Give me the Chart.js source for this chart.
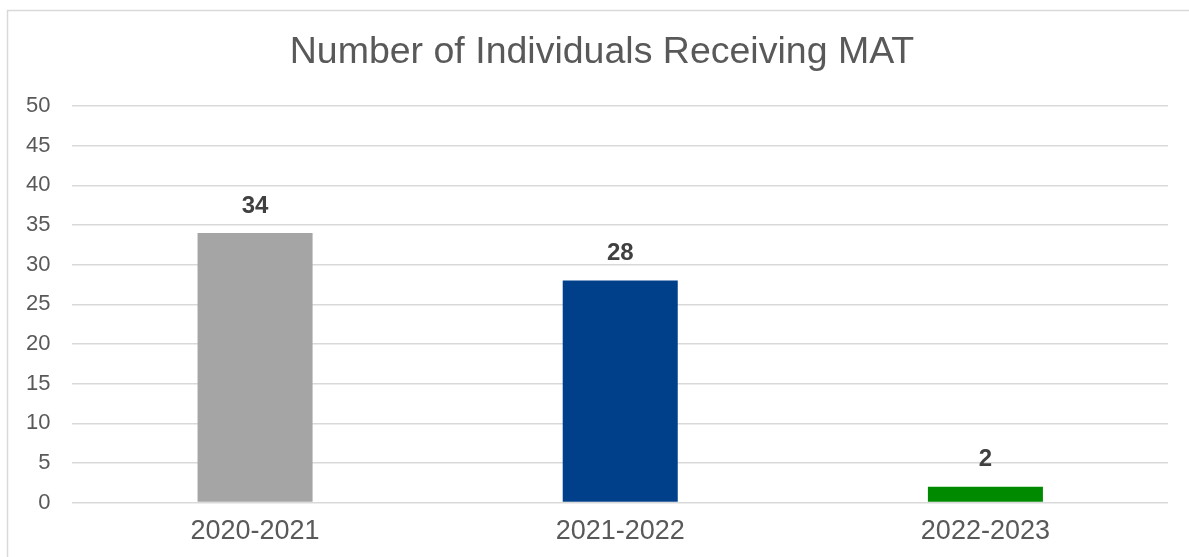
<!DOCTYPE html>
<html>
<head>
<meta charset="utf-8">
<title>Number of Individuals Receiving MAT</title>
<script src="https://cdn.jsdelivr.net/npm/chart.js@4/dist/chart.umd.min.js"></script>
<style>
    html, body { margin: 0; padding: 0; background: #fff; }
    #wrap { width: 1189px; height: 557px; position: relative; }
</style>
</head>
<body>
<div id="wrap"><canvas id="matChart" width="1189" height="557"></canvas></div>
<script>
const years = ['2020-2021', '2021-2022', '2022-2023'];
const individuals = [34, 28, 2];
const barColors = ['#A5A5A5', '#00408A', '#008A00'];
const yTicks = [0, 5, 10, 15, 20, 25, 30, 35, 40, 45, 50];
const chartTitle = 'Number of Individuals Receiving MAT';

const FONT = '"Liberation Sans", Arial, sans-serif';

// light frame around the whole chart, title centred on the frame
const framePlugin = {
    id: 'frame',
    beforeDraw(chart) {
        const ctx = chart.ctx;
        ctx.save();
        ctx.strokeStyle = '#D9D9D9';
        ctx.lineWidth = 1.5;
        ctx.strokeRect(7.5, 10.5, chart.width + 20, chart.height + 20);
        ctx.font = '37.5px ' + FONT;
        ctx.fillStyle = '#595959';
        ctx.textAlign = 'center';
        ctx.textBaseline = 'middle';
        ctx.fillText(chartTitle, 602, 53);
        ctx.restore();
    }
};

// value printed above each bar
const valueLabels = {
    id: 'valueLabels',
    afterDatasetsDraw(chart) {
        const ctx = chart.ctx;
        const meta = chart.getDatasetMeta(0);
        ctx.save();
        ctx.font = 'bold 24px ' + FONT;
        ctx.fillStyle = '#404040';
        ctx.textAlign = 'center';
        ctx.textBaseline = 'middle';
        meta.data.forEach((bar, i) => {
            ctx.fillText(String(individuals[i]), bar.x, bar.y - 27);
        });
        ctx.restore();
    }
};

const ctx = document.getElementById('matChart').getContext('2d');
new Chart(ctx, {
    type: 'bar',
    data: {
        labels: years,
        datasets: [{
            data: individuals,
            backgroundColor: barColors,
            borderWidth: 0,
            categoryPercentage: 1,
            barPercentage: 0.315
        }]
    },
    options: {
        responsive: false,
        animation: false,
        layout: {
            padding: { left: 4, right: 21, top: 106, bottom: -4 }
        },
        plugins: {
            legend: { display: false },
            tooltip: { enabled: false },
            title: { display: false }
        },
        scales: {
            x: {
                grid: { display: false, drawTicks: false },
                border: { display: false },
                ticks: {
                    color: '#595959',
                    font: { family: FONT, size: 27 },
                    padding: 13
                }
            },
            y: {
                min: 0,
                max: 50,
                afterBuildTicks(axis) {
                    axis.ticks = yTicks.map(v => ({ value: v }));
                },
                grid: {
                    color: '#D9D9D9',
                    lineWidth: 1.5,
                    drawTicks: false
                },
                border: { display: false },
                ticks: {
                    color: '#595959',
                    font: { family: FONT, size: 22 },
                    padding: 22
                }
            }
        }
    },
    plugins: [framePlugin, valueLabels]
});
</script>
</body>
</html>
